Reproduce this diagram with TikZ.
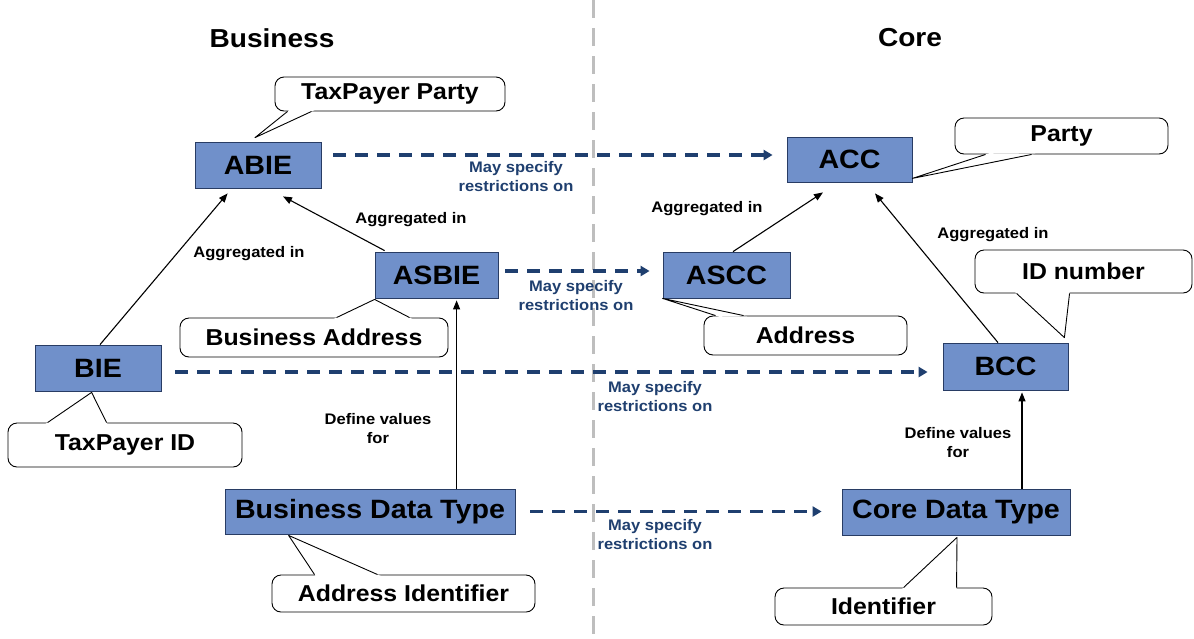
\documentclass[tikz,border=0pt]{standalone}
\usepackage{fontspec}
\setmainfont{Liberation Sans}[FakeStretch=1.08]
\usetikzlibrary{calc,arrows.meta}
\definecolor{boxblue}{RGB}{112,144,202}
\definecolor{boxline}{RGB}{40,60,100}
\definecolor{navy}{RGB}{31,63,111}
\definecolor{divgray}{RGB}{190,190,190}
\newcommand\calloutTail[3]{%
  \fill[white] ($(#1)!-4pt!(#2)$) -- (#2) -- ($(#3)!-4pt!(#2)$) -- cycle;
  \draw[line width=0.9pt,line join=round] (#1) -- (#2) -- (#3);}
\begin{document}
\begin{tikzpicture}[x=1pt,y=-1pt,
  elem/.style={draw=boxline,line width=0.8pt,fill=boxblue,inner sep=0pt,minimum height=46pt,font=\fontsize{26.5}{29}\selectfont\bfseries},
  note/.style={draw=black,line width=0.9pt,fill=white,rounded corners=9pt,inner sep=0pt,font=\fontsize{23}{26}\selectfont\bfseries},
  lbl/.style={align=center,font=\fontsize{15.3}{19}\selectfont\bfseries},
  navylbl/.style={lbl,text=navy},
  title/.style={font=\fontsize{26}{30}\selectfont\bfseries},
  agg/.style={draw=black,line width=1.1pt,-{Triangle[length=9pt,width=7pt]}},
  restr/.style={draw=navy,line width=3.8pt,dash pattern=on 13pt off 9pt,-{Triangle[length=9pt,width=10pt]}},
]
\useasboundingbox (0,0) rectangle (1194,638);

% divider
\coordinate (divtop) at (593,0);
\coordinate (divbot) at (593,638);
\draw[divgray,line width=3pt,dash pattern=on 18pt off 10pt] (divtop) -- (divbot);

% titles
\node[title] (tbus) at (272,38) {Business};
\node[title] (tcore) at (910,38) {Core};

% element boxes
\node[elem,minimum width=126pt] (abie) at (258,165) {ABIE};
\node[elem,minimum width=123pt] (asbie) at (436.5,275) {ASBIE};
\node[elem,minimum width=126pt] (bie) at (98,368) {BIE};
\node[elem,minimum width=290pt,minimum height=45pt] (bdt) at (370,511.5) {Business Data Type};
\node[elem,minimum width=125pt,minimum height=45pt] (acc) at (849.5,159.5) {ACC};
\node[elem,minimum width=127pt] (ascc) at (726.5,275) {ASCC};
\node[elem,minimum width=125pt,minimum height=47pt] (bcc) at (1005.5,366.5) {BCC};
\node[elem,minimum width=228pt] (cdt) at (956,512) {Core Data Type};

% callouts
\node[note,minimum width=230pt,minimum height=34pt] (tpp) at (390,94) {TaxPayer Party};
\node[note,minimum width=268pt,minimum height=39pt] (ba) at (314,337.5) {Business Address};
\node[note,minimum width=234pt,minimum height=44pt] (tpid) at (125,445) {TaxPayer ID};
\node[note,minimum width=263pt,minimum height=37pt] (ai) at (403.5,593.5) {Address Identifier};
\node[note,minimum width=213pt,minimum height=36pt] (party) at (1061.5,136) {Party};
\node[note,minimum width=203pt,minimum height=39pt] (addr) at (805.5,335.5) {Address};
\node[note,minimum width=217pt,minimum height=43pt] (idn) at (1083.5,271.5) {ID number};
\node[note,minimum width=217pt,minimum height=37pt] (ident) at (883.5,606.5) {Identifier};

% callout tails
\calloutTail{$(tpp.south west)+(13,0)$}{$(abie.north)+(-3,-4)$}{$(tpp.south west)+(37,0)$}
\calloutTail{$(ba.north west)+(157,0)$}{$(asbie.south west)+(0,1)$}{$(ba.north west)+(230,0)$}
\calloutTail{$(tpid.north west)+(40,0)$}{$(bie.south west)+(57,1)$}{$(tpid.north west)+(99,0)$}
\calloutTail{$(ai.north west)+(43,0)$}{$(bdt.south west)+(64,1)$}{$(ai.north west)+(106,0)$}
\calloutTail{$(party.south west)+(31,0)$}{$(acc.south east)+(0,-4)$}{$(party.south west)+(77,0)$}
\calloutTail{$(addr.north west)+(12,0)$}{$(ascc.south west)+(0,0)$}{$(addr.north west)+(40,0)$}
\calloutTail{$(idn.south west)+(42,0)$}{$(bcc.north east)+(-4,-5)$}{$(idn.south west)+(95,0)$}
\calloutTail{$(ident.north west)+(129,0)$}{$(cdt.south)+(1,2)$}{$(ident.north west)+(182,0)$}

% aggregation / definition arrows
\draw[agg] ($(bie.north)+(2,0)$) -- ($(abie.south west)+(33,5)$);
\draw[agg] ($(asbie.north west)+(10,-1)$) -- ($(abie.south)+(25,8)$);
\draw[agg] ($(bdt.north west)+(232,0)$) -- ($(asbie.south west)+(82,2)$);
\draw[agg] ($(ascc.north)+(6.5,0)$) -- ($(acc.south)+(-26.5,10)$);
\draw[agg] ($(bcc.north)+(-7.5,0)$) -- ($(acc.south)+(25.5,11)$);
\draw[agg] ($(cdt.north)+(66,0)$) -- ($(bcc.south)+(16.5,2)$);

% restriction arrows
\coordinate (s1) at ($(abie.east)+(12,-10)$);
\coordinate (e1) at ($(acc.west)+(-14,0)$);
\coordinate (s2) at ($(asbie.east)+(7,-4)$);
\coordinate (e2) at ($(ascc.west)+(-13,0)$);
\coordinate (s3) at ($(bie.east)+(14,4)$);
\coordinate (e3) at ($(bcc.west)+(-15,0)$);
\coordinate (s4) at ($(bdt.east)+(15,0)$);
\coordinate (e4) at ($(cdt.west)+(-20,0)$);
\draw[restr] (s1) -- (s1 -| e1);
\draw[restr] (s2) -- (s2 -| e2);
\draw[restr] (s3) -- (s3 -| e3);
\draw[restr] (s4) -- (s4 -| e4);

% labels
\node[lbl] (l1) at (249,254) {Aggregated in};
\node[lbl] (l2) at (411,220) {Aggregated in};
\node[lbl] (l3) at (707,209) {Aggregated in};
\node[lbl] (l4) at (993,235) {Aggregated in};
\node[lbl] (l5) at (378,429) {Define values\\for};
\node[lbl] (l6) at (958,443) {Define values\\for};
\node[navylbl] (r1) at (516,177) {May specify\\restrictions on};
\node[navylbl] (r2) at (576,296) {May specify\\restrictions on};
\node[navylbl] (r3) at (655,397) {May specify\\restrictions on};
\node[navylbl] (r4) at (655,535) {May specify\\restrictions on};
\end{tikzpicture}
\end{document}
